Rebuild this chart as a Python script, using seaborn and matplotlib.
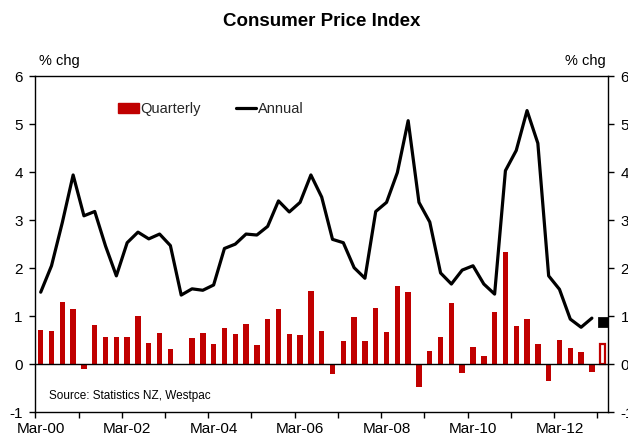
import numpy as np
import pandas as pd
import matplotlib
matplotlib.use("Agg")
import matplotlib.pyplot as plt
import seaborn as sns
from matplotlib.patches import Patch
from matplotlib.lines import Line2D

# ---- data (Mar-00 .. Mar-13, last quarter is a forecast) ----
quarters = [f"{m}-{y:02d}" for y in range(0, 14) for m in ("Mar", "Jun", "Sep", "Dec")][:53]
quarterly = [0.71, 0.69, 1.30, 1.16, -0.10, 0.81, 0.57, 0.57, 0.56, 1.00,
             0.44, 0.65, 0.32, 0.00, 0.54, 0.65, 0.43, 0.75, 0.63, 0.84,
             0.41, 0.94, 1.15, 0.63, 0.60, 1.52, 0.70, -0.20, 0.49, 0.98,
             0.49, 1.17, 0.67, 1.63, 1.50, -0.47, 0.27, 0.56, 1.28, -0.19,
             0.36, 0.17, 1.09, 2.34, 0.79, 0.95, 0.43, -0.34, 0.51, 0.34,
             0.26, -0.17, 0.43]
annual = [1.50, 2.05, 2.95, 3.94, 3.09, 3.18, 2.46, 1.84, 2.53, 2.75,
          2.61, 2.71, 2.47, 1.44, 1.57, 1.54, 1.65, 2.41, 2.50, 2.71,
          2.69, 2.87, 3.40, 3.17, 3.37, 3.94, 3.48, 2.60, 2.53, 2.01,
          1.79, 3.18, 3.37, 3.99, 5.07, 3.37, 2.96, 1.90, 1.67, 1.96,
          2.05, 1.67, 1.46, 4.03, 4.45, 5.28, 4.60, 1.84, 1.56, 0.94,
          0.77, 0.96]
annual_forecast = [0.87]
xtick_labels = ["Mar-00", "Mar-02", "Mar-04", "Mar-06", "Mar-08", "Mar-10", "Mar-12"]
yticks = [-1, 0, 1, 2, 3, 4, 5, 6]

n = len(quarters)
idx = np.arange(n)
df_q = pd.DataFrame({"i": idx, "q": quarterly})
df_a = pd.DataFrame({"i": idx[:len(annual)], "a": annual})
df_f = pd.DataFrame({"i": idx[len(annual):], "a": annual_forecast})

RED = "#C00000"

sns.set_theme(style="white")
plt.rcParams["font.family"] = ["Liberation Sans", "DejaVu Sans"]

fig = plt.figure(figsize=(6.28, 4.37), dpi=100)
ax = fig.add_axes([35.3 / 628, 1 - 412.3 / 437, (608.1 - 35.3) / 628, (412.3 - 76) / 437])

sns.barplot(data=df_q, x="i", y="q", native_scale=True, width=0.5,
            color=RED, saturation=1, linewidth=0, ax=ax, zorder=2)
last = ax.patches[-1]
last.set_facecolor("white")
last.set_edgecolor(RED)
last.set_linewidth(1.6)

sns.lineplot(data=df_a, x="i", y="a", color="black", linewidth=2.3, ax=ax, zorder=3)
sns.scatterplot(data=df_f, x="i", y="a", color="black", marker="s", s=45,
                edgecolor="black", ax=ax, zorder=3)

ax.axhline(0, color="black", linewidth=1.0, zorder=2.5)

ax.set_xlim(-0.5, n - 0.5)
ax.set_ylim(-1, 6)
ax.set_xlabel("")
ax.set_ylabel("")

# x axis: labels every 8 quarters, tick marks every 4 quarters between categories
ax.set_xticks(idx[::8])
ax.set_xticklabels(xtick_labels)
ax.set_xticks(np.arange(-0.5, n - 0.5, 4), minor=True)
ax.tick_params(axis="x", which="major", length=0, pad=7, labelsize=11, colors="black")
ax.tick_params(axis="x", which="minor", length=4, width=1, direction="out",
               bottom=True, color="black")

ax.set_yticks(yticks)
ax.set_yticklabels([str(v) for v in yticks])
ax.tick_params(axis="y", which="major", length=4, width=1, direction="out",
               left=True, right=True, labelleft=True, labelright=True,
               labelsize=11, pad=5, colors="black")

for s in ax.spines.values():
    s.set_visible(True)
    s.set_color("black")
    s.set_linewidth(1.0)

ax.grid(False)

# legend
handles = [Patch(facecolor=RED, edgecolor=RED, label="Quarterly"),
           Line2D([0], [0], color="black", linewidth=2.3, label="Annual")]
ax.legend(handles=handles, loc="center left", bbox_to_anchor=(0.145, 0.902),
          ncol=2, frameon=False, fontsize=10.5, handlelength=1.4,
          handletextpad=0.1, columnspacing=2.4, borderaxespad=0, borderpad=0)

# texts
fig.text(322 / 628, 1 - 21 / 437, "Consumer Price Index", ha="center", va="center",
         fontsize=13.5, fontweight="bold", color="black")
fig.text(39 / 628, 1 - 61 / 437, "% chg", ha="left", va="center", fontsize=10.5, color="black")
fig.text(606 / 628, 1 - 61 / 437, "% chg", ha="right", va="center", fontsize=10.5, color="black")
ax.text(49, 396, "Source: Statistics NZ, Westpac", transform=None, fontsize=8.5,
        ha="left", va="center", color="black")

fig.canvas.draw()
# place source text in figure pixel coords (origin bottom-left)
for t in ax.texts:
    t.set_transform(matplotlib.transforms.IdentityTransform())
    t.set_position((49, 437 - 396))

fig.savefig("out.png", dpi=100)
